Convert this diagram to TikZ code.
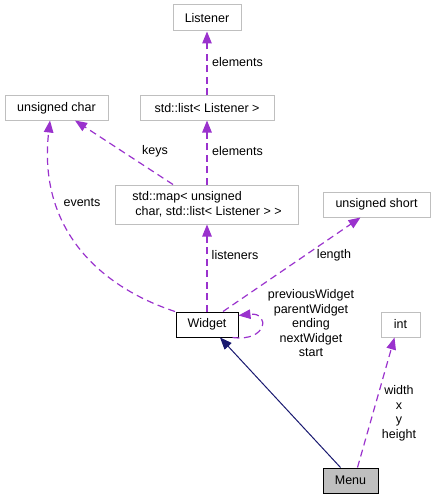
\documentclass[tikz,border=0pt]{standalone}
\usepackage{fontspec}
\setmainfont{Liberation Sans}
\usetikzlibrary{arrows.meta}
\definecolor{depc}{HTML}{9A32CD}
\definecolor{inhc}{HTML}{191970}
\definecolor{gbox}{HTML}{BFBFBF}
\tikzset{
  box/.style={draw=gbox, line width=1pt, fill=white, inner sep=0pt, minimum height=25pt},
  mainbox/.style={box, draw=black, line width=1pt},
  dep/.style={draw=depc, dash pattern=on 7pt off 4.5pt, line width=1.2pt,
    -{Triangle[length=12pt,width=9.5pt,fill=depc]}},
  inh/.style={draw=inhc, line width=1pt, -{Triangle[length=12pt,width=9.5pt,fill=inhc]}},
  lbl/.style={inner sep=0pt, align=center}
}
\begin{document}
\begin{tikzpicture}[x=1pt, y=-1pt, font=\fontsize{12.5}{14.5}\selectfont]
\useasboundingbox (0,0) rectangle (435,500);
% nodes
\node[box, minimum width=68pt, minimum height=26pt] (listener) at (207,18) {Listener};
\node[box, minimum width=103pt, minimum height=24pt] (uchar) at (56.5,108) {unsigned char};
\node[box, minimum width=134pt, minimum height=24pt] (list) at (207,108) {std::list< Listener >};
\node[box, minimum width=183pt, minimum height=39pt, align=left] (map) at (207,204.5) {std::map< unsigned\\\hspace{3pt}char, std::list< Listener > >};
\node[box, minimum width=107pt, minimum height=25pt] (ushort) at (376.5,204.5) {unsigned short};
\node[mainbox, minimum width=62pt, minimum height=25pt] (wid) at (207,324.5) {Widget};
\node[box, minimum width=39pt, minimum height=25pt] (int) at (400.5,324.5) {int};
\node[mainbox, fill=gbox, minimum width=55pt, minimum height=25pt] (menu) at (350.5,480.5) {Menu};
% edges
\draw[dep] (list.north) -- (listener.south);
\draw[dep] (map.north) -- (list.south);
\draw[dep] ([xshift=-34pt]map.north) -- ([xshift=18.5pt]uchar.south);
\draw[dep] ([xshift=-32pt]wid.north) .. controls (95,285) and (38,225) .. ([xshift=-6.5pt]uchar.south);
\draw[dep] (wid.north) -- (map.south);
\draw[dep] ([xshift=16pt]wid.north) -- ([xshift=-16pt]ushort.south);
\draw[dep] ([xshift=-6pt]wid.south east) .. controls (268,342) and (270,312) .. ([yshift=-4pt]wid.north east);
\draw[inh] ([xshift=-10pt]menu.north) -- ([xshift=13pt]wid.south);
\draw[dep] ([xshift=7pt]menu.north) -- ([xshift=-6pt]int.south);
% labels
\node[lbl] (l1) at (237.5,62) {elements};
\node[lbl] (l2) at (237.5,151) {elements};
\node[lbl] (l3) at (155,151) {keys};
\node[lbl] (l4) at (82,203) {events};
\node[lbl] (l5) at (235,255) {listeners};
\node[lbl] (l6) at (334,255) {length};
\node[lbl] (l7) at (311,323.5) {previousWidget\\parentWidget\\ending\\nextWidget\\start};
\node[lbl] (l8) at (399,413.5) {width\\x\\y\\height};
\end{tikzpicture}
\end{document}
